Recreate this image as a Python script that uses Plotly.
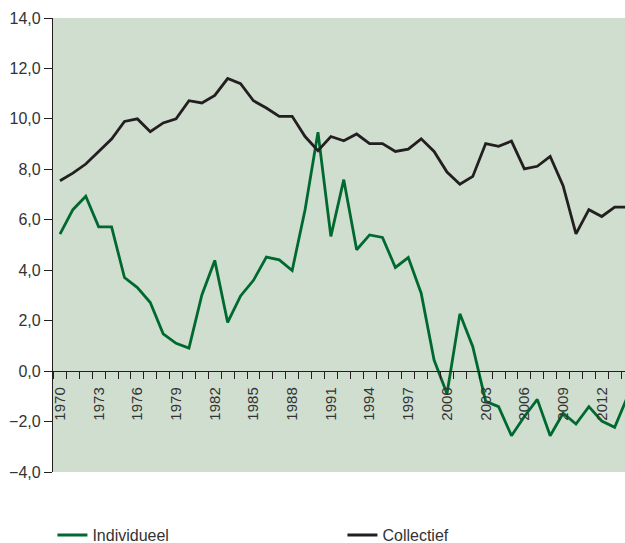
import plotly.graph_objects as go

years = list(range(1970, 2015))

individueel = [5.43, 6.4, 6.93, 5.72, 5.72, 3.71, 3.31, 2.72, 1.48, 1.1,
               0.91, 3.02, 4.39, 1.93, 2.98, 3.6, 4.52, 4.41, 3.99, 6.4,
               9.47, 5.34, 7.59, 4.81, 5.4, 5.3, 4.11, 4.5, 3.09, 0.44,
               -0.9, 2.27, 0.97, -1.2, -1.41, -2.56, -1.8, -1.12, -2.56, -1.67,
               -2.1, -1.41, -1.98, -2.23, -1.0]

collectief = [7.55, 7.85, 8.21, 8.7, 9.2, 9.9, 10.0, 9.49, 9.84, 10.0,
              10.72, 10.63, 10.93, 11.6, 11.4, 10.72, 10.43, 10.1, 10.1, 9.3,
              8.74, 9.3, 9.13, 9.4, 9.02, 9.02, 8.71, 8.8, 9.21, 8.71,
              7.89, 7.41, 7.72, 9.02, 8.91, 9.12, 8.02, 8.12, 8.51, 7.35,
              5.44, 6.4, 6.13, 6.5, 6.5]

label_years = list(range(1970, 2013, 3))
y_ticks = [-4, -2, 0, 2, 4, 6, 8, 10, 12, 14]

GREEN = "#00692f"
BLACK = "#231f20"
TEXT = "#333333"
FONT = "Liberation Sans, Arial, sans-serif"

fig = go.Figure()
fig.add_trace(go.Scatter(x=years, y=individueel, mode="lines", name="Individueel",
                         line=dict(color=GREEN, width=2.8)))
fig.add_trace(go.Scatter(x=years, y=collectief, mode="lines", name="Collectief",
                         line=dict(color=BLACK, width=2.8)))

fig.update_layout(
    width=625, height=543,
    margin=dict(l=53, r=0, t=18, b=71, autoexpand=False),
    paper_bgcolor="white",
    plot_bgcolor="#cfdecf",
    separators=",.",
    font=dict(family=FONT, color=TEXT),
    showlegend=True,
    legend=dict(orientation="h", x=-0.001, xanchor="left", y=-0.139, yanchor="middle",
                font=dict(size=16, color=TEXT, family=FONT),
                entrywidth=245, entrywidthmode="pixels",
                bgcolor="rgba(0,0,0,0)"),
    xaxis=dict(
        range=[1969.46, 2013.8],
        anchor="free", position=4 / 18,
        automargin=False,
        showline=True, linecolor=BLACK, linewidth=1.3,
        showgrid=False, zeroline=False,
        tickmode="array", tickvals=label_years, ticktext=[str(y) for y in label_years],
        ticks="outside", ticklen=9, tickcolor="rgba(0,0,0,0)", tickangle=-90,
        tickfont=dict(size=15, color=TEXT, family=FONT),
        minor=dict(ticks="outside", tick0=1970.5, dtick=1, ticklen=7,
                   tickcolor=BLACK, tickwidth=1.3, showgrid=False),
    ),
    yaxis=dict(
        range=[-4, 14],
        automargin=False,
        tickmode="array", tickvals=y_ticks, tickformat=".1f",
        showline=True, linecolor=BLACK, linewidth=1.3,
        ticks="outside", ticklen=8, tickcolor=BLACK, tickwidth=1.3,
        showgrid=False, zeroline=False,
        tickfont=dict(size=16, color=TEXT, family=FONT),
    ),
)

fig.write_html("out.html", config={"displayModeBar": False},
               post_script="document.body.style.margin='0';")
